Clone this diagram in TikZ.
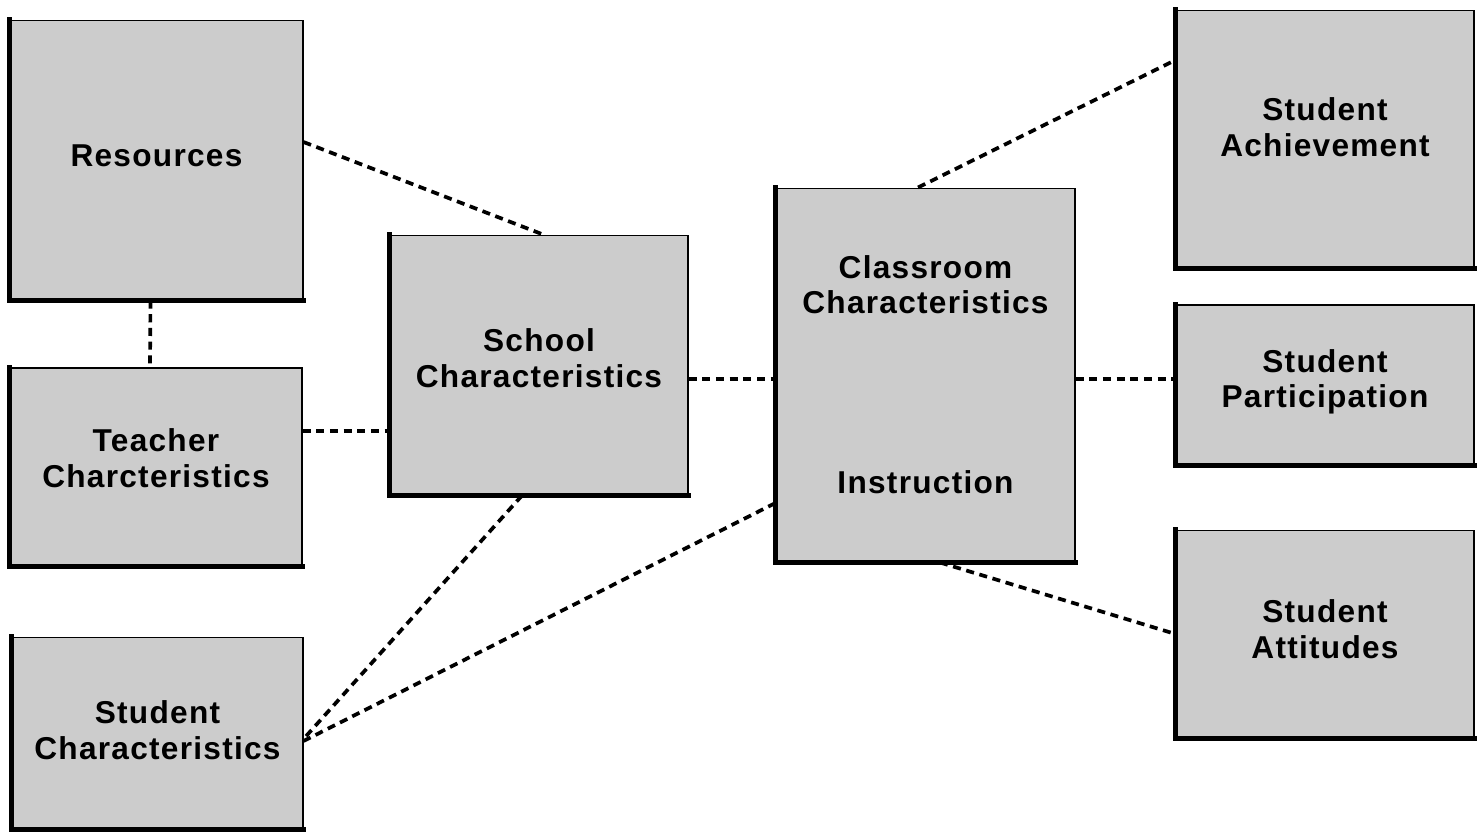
\documentclass[tikz,border=0pt]{standalone}
\usepackage{fontspec}
\setmainfont{Liberation Sans}[LetterSpace=4]
\usetikzlibrary{positioning}

\begin{document}
\begin{tikzpicture}[x=0.02cm,y=-0.02cm]
% Define styles for nodes and edges
\tikzstyle{factor} = [rectangle, draw, line width=0.6pt, fill=black!20, align=center, font=\fontsize{18}{20}\selectfont\bfseries, inner sep=0pt]
\tikzstyle{link} = [line width=2.1pt, dash pattern=on 4.6pt off 3.2pt]
\tikzstyle{edge} = [line width=2.8pt, line cap=rect]

\useasboundingbox (0,0) rectangle (1481,832);

% Nodes
\node[factor, minimum width=5.86cm, minimum height=5.6cm, text depth=0.16cm] (res) at (156.5,160) {Resources};
\node[factor, minimum width=5.84cm, minimum height=3.96cm, text depth=0.36cm] (teach) at (156,467) {Teacher\\Charcteristics};
\node[factor, minimum width=5.82cm, minimum height=3.84cm, text depth=0.12cm] (stud) at (157.5,733) {Student\\Characteristics};
\node[factor, minimum width=5.96cm, minimum height=5.2cm, text depth=0.28cm] (school) at (539,365) {School\\Characteristics};
\node[factor, minimum width=5.98cm, minimum height=7.48cm] (class) at (925.5,375) {Classroom\\Characteristics\\[2.9cm]Instruction};
\node[factor, minimum width=5.96cm, minimum height=5.16cm, text depth=0.48cm] (ach) at (1325,139) {Student\\Achievement};
\node[factor, minimum width=5.96cm, minimum height=3.2cm, text depth=0.25cm] (part) at (1325,385) {Student\\Participation};
\node[factor, minimum width=5.96cm, minimum height=4.16cm, text depth=0.2cm] (att) at (1325,634) {Student\\Attitudes};

% Heavy left and bottom edges
\foreach \n in {res,teach,stud,school,class,ach,part,att}
  \draw[edge] (\n.north west) -- (\n.south west) -- (\n.south east);

% Edges
\draw[link] ([yshift=0.36cm]res.east) -- ([xshift=0.08cm]school.north);
\draw[link] ([xshift=-0.12cm]res.south) -- ([xshift=-0.12cm]teach.north);
\draw[link] ([yshift=0.72cm]teach.east) -- ([yshift=0.72cm]teach.east -| school.west);
\draw[link] ([yshift=-0.28cm]school.east) -- ([yshift=-0.28cm]school.east -| class.west);
\draw[link] ([xshift=-0.34cm]school.south) -- ([yshift=-0.12cm]stud.east);
\draw[link] ([yshift=-2.56cm]class.west) -- ([yshift=-0.16cm]stud.east);
\draw[link] ([xshift=-0.15cm]class.north) -- ([yshift=1.58cm]ach.west);
\draw[link] ([yshift=0.12cm]class.east |- part.west) -- ([yshift=0.12cm]part.west);
\draw[link] ([xshift=0.29cm]class.south) -- (att.west);
\end{tikzpicture}
\end{document}
